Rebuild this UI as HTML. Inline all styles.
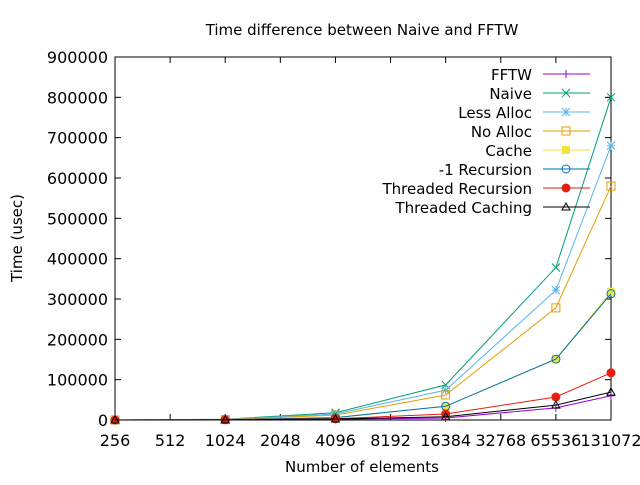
<!DOCTYPE html>
<html><head><meta charset="utf-8"><style>
body{margin:0;background:#fff}
svg text{font-family:"DejaVu Sans","Liberation Sans",sans-serif;font-size:15px;fill:#000}
svg text.tick{font-size:16px}
</style></head><body>
<svg id="chart" width="640" height="480" viewBox="0 0 640 480" xmlns="http://www.w3.org/2000/svg">
<text x="362" y="35" text-anchor="middle">Time difference between Naive and FFTW</text>
<text x="362" y="472" text-anchor="middle">Number of elements</text>
<text x="22" y="238" text-anchor="middle" transform="rotate(-90 22 238)">Time (usec)</text>
<g id="axes"></g><g id="series"></g><g id="legend"></g>
</svg>
<script>
const xCats=["256","512","1024","2048","4096","8192","16384","32768","65536","131072"];
const yTicks=[0,100000,200000,300000,400000,500000,600000,700000,800000,900000];
const ptX=["256","1024","4096","16384","65536","131072"];
const fftw=[0,500,2000,5000,30000,60000];
const naive=[0,2000,18000,87000,378000,800000];
const lessAlloc=[0,1500,15000,74000,322000,680000];
const noAlloc=[0,1000,12000,62000,278000,580000];
const cache=[0,800,6000,34000,151000,318000];
const minus1=[0,800,6000,34000,151000,313000];
const thrRec=[0,500,3000,15000,57000,117000];
const thrCache=[0,400,2500,8000,37000,69000];
const seriesNames=["FFTW","Naive","Less Alloc","No Alloc","Cache","-1 Recursion","Threaded Recursion","Threaded Caching"];
const L=115,R=611,T=57,B=420;
const xs=c=>L+xCats.indexOf(c)*(R-L)/(xCats.length-1);
const ys=v=>B-v/900000*(B-T);
const NS="http://www.w3.org/2000/svg";
function mk(p,t,a){const e=document.createElementNS(NS,t);for(const k in a)e.setAttribute(k,a[k]);p.appendChild(e);return e;}
const ax=document.getElementById('axes');
const frame=mk(ax,'rect',{x:L,y:T,width:R-L,height:B-T,fill:'none',stroke:'#000','stroke-width':1});


yTicks.forEach(v=>{const y=ys(v);
 mk(ax,'line',{x1:L,x2:L+6,y1:y,y2:y,stroke:'#000'});mk(ax,'line',{x1:R,x2:R-6,y1:y,y2:y,stroke:'#000'});
 const t=mk(ax,'text',{x:L-7,y:y+6,'text-anchor':'end','class':'tick'});t.textContent=v;
 
 });
xCats.forEach(c=>{const x=xs(c);
 mk(ax,'line',{x1:x,x2:x,y1:B,y2:B-6,stroke:'#000'});mk(ax,'line',{x1:x,x2:x,y1:T,y2:T+6,stroke:'#000'});
 const t=mk(ax,'text',{x:x,y:446,'text-anchor':'middle','class':'tick'});t.textContent=c;
 
 });
const data=[fftw,naive,lessAlloc,noAlloc,cache,minus1,thrRec,thrCache];
const colors=["#9400d3","#009e73","#56b4e9","#e69f00","#f0e442","#0072b2","#e51e10","#000000"];
const marks=["plus","x","star","sq","fsq","circ","fcirc","tri"];
function marker(g,m,x,y,c){
 const s={stroke:c,fill:'none','stroke-width':1};
 if(m=="plus"){mk(g,'path',Object.assign({d:`M${x-4} ${y}H${x+4}M${x} ${y-4}V${y+4}`},s));}
 else if(m=="x"){mk(g,'path',Object.assign({d:`M${x-4} ${y-4}L${x+4} ${y+4}M${x-4} ${y+4}L${x+4} ${y-4}`},s));}
 else if(m=="star"){mk(g,'path',Object.assign({d:`M${x-4} ${y-4}L${x+4} ${y+4}M${x-4} ${y+4}L${x+4} ${y-4}M${x-4} ${y}H${x+4}M${x} ${y-4}V${y+4}`},s));}
 else if(m=="sq"){mk(g,'rect',Object.assign({x:x-4,y:y-4,width:8,height:8},s));}
 else if(m=="fsq"){mk(g,'rect',{x:x-4,y:y-4,width:8,height:8,fill:c});}
 else if(m=="circ"){mk(g,'circle',Object.assign({cx:x,cy:y,r:4},s));}
 else if(m=="fcirc"){mk(g,'circle',{cx:x,cy:y,r:4.5,fill:c});}
 else {mk(g,'path',Object.assign({d:`M${x} ${y-4}L${x+4} ${y+3}L${x-4} ${y+3}Z`},s));}
}
const sg=document.getElementById('series'),lg=document.getElementById('legend');
data.forEach((arr,i)=>{
 const g=mk(sg,'g',{});
 
 
 mk(g,'polyline',{points:arr.map((v,j)=>xs(ptX[j])+','+ys(v)).join(' '),fill:'none',stroke:colors[i],'stroke-width':1});
 arr.forEach((v,j)=>marker(g,marks[i],xs(ptX[j]),ys(v),colors[i]));
 const ly=74+i*19;
 const e=mk(lg,'g',{});
 
 
 const t=mk(e,'text',{x:532,y:ly+6,'text-anchor':'end'});t.textContent=seriesNames[i];
 mk(e,'line',{x1:543,x2:590,y1:ly,y2:ly,stroke:colors[i]});
 marker(e,marks[i],566,ly,colors[i]);
});
</script>
</body></html>
